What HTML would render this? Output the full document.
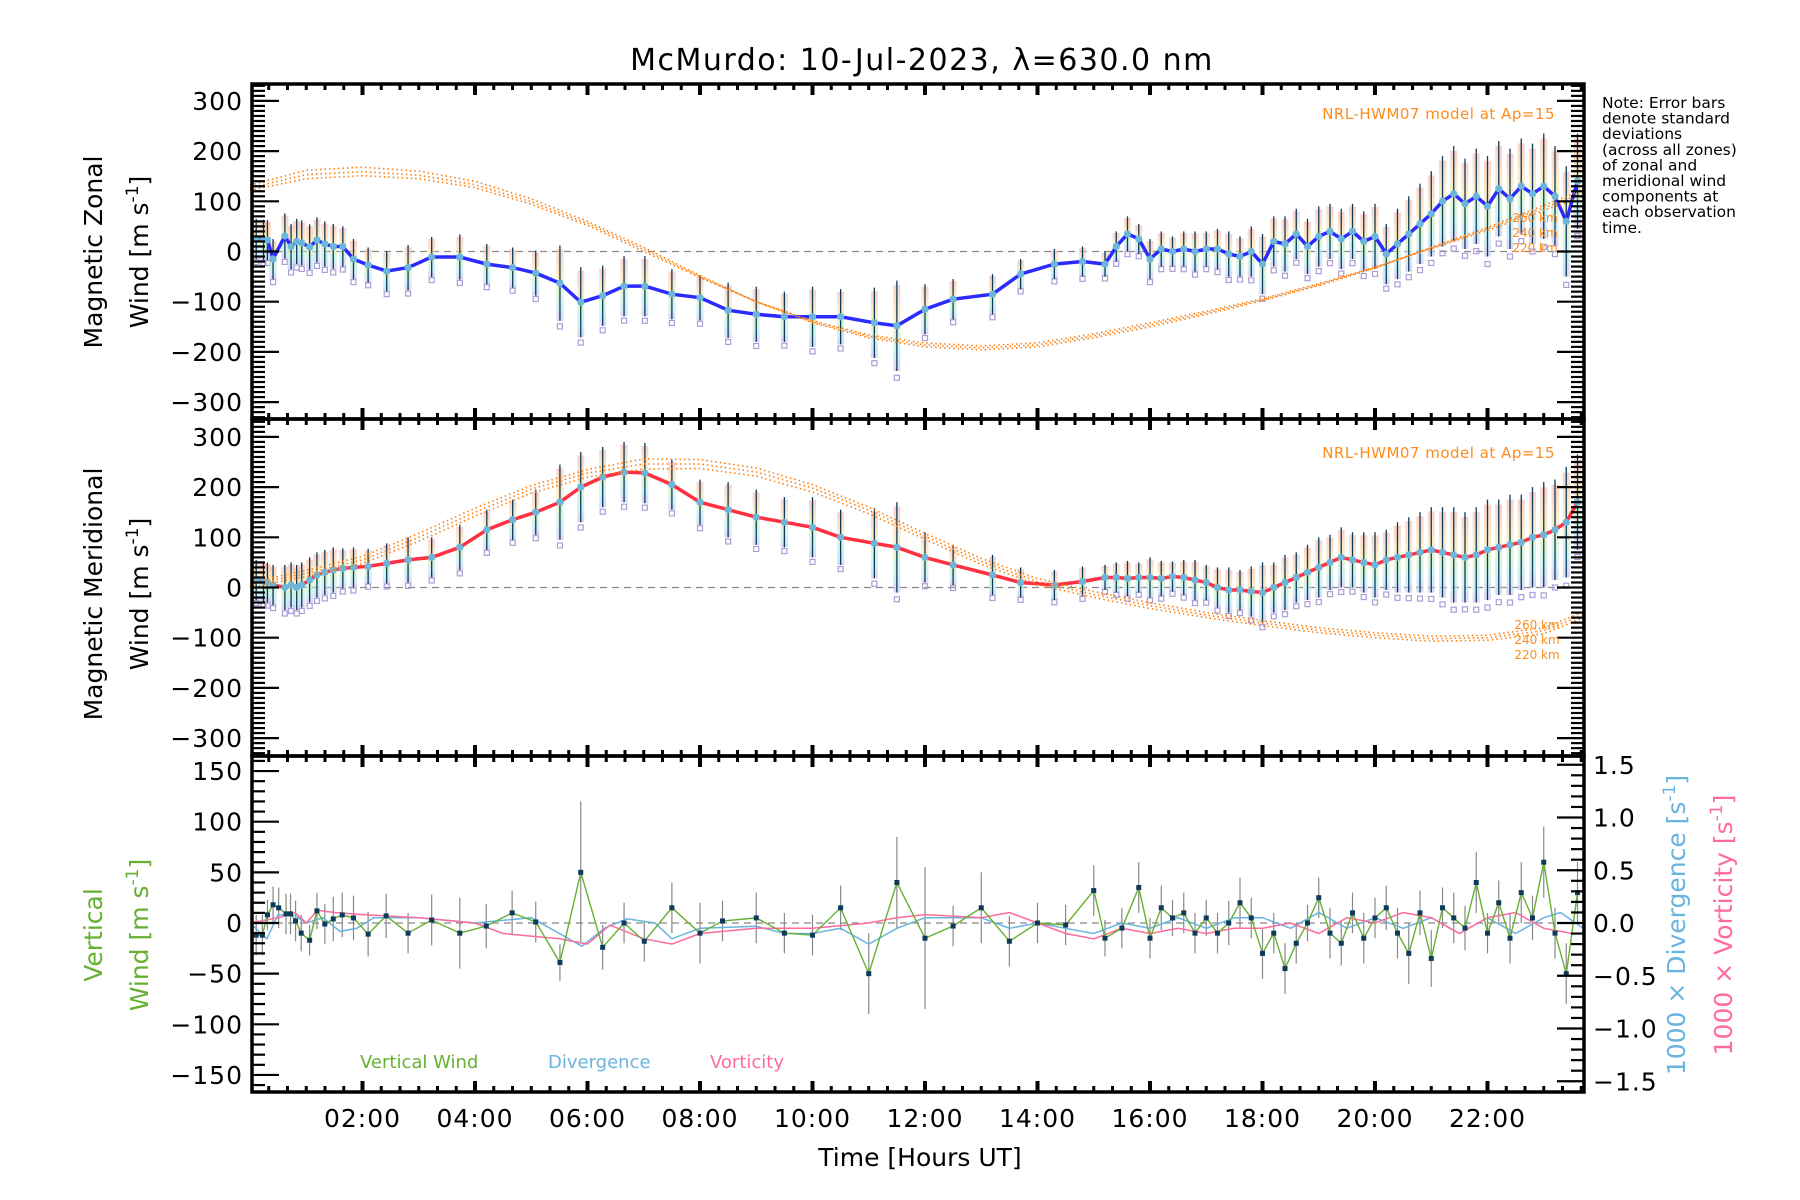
<!DOCTYPE html>
<html><head><meta charset="utf-8">
<style>
html,body{margin:0;padding:0;background:#fff;}
svg{display:block;font-family:"DejaVu Sans","Liberation Sans",sans-serif;}
</style></head>
<body>
<svg id="chart" width="1800" height="1200" viewBox="0 0 1800 1200" xmlns="http://www.w3.org/2000/svg">
<defs>
<linearGradient id="rb" x1="0" y1="0" x2="0" y2="1">
<stop offset="0" stop-color="#f7b9b0"/><stop offset="0.35" stop-color="#f9e0a8"/><stop offset="0.6" stop-color="#c9f0c0"/><stop offset="0.8" stop-color="#b8e8f0"/><stop offset="1" stop-color="#c8c0ee"/>
</linearGradient>
</defs>
<text x="922" y="70" font-size="30" text-anchor="middle" letter-spacing="1.5">McMurdo: 10-Jul-2023, λ=630.0 nm</text>
<g id="marks"></g>
<g id="axes"></g>
<text font-size="15.5" x="1602" y="108">
<tspan x="1602" dy="0">Note: Error bars</tspan><tspan x="1602" dy="15.6">denote standard</tspan><tspan x="1602" dy="15.6">deviations</tspan><tspan x="1602" dy="15.6">(across all zones)</tspan><tspan x="1602" dy="15.6">of zonal and</tspan><tspan x="1602" dy="15.6">meridional wind</tspan><tspan x="1602" dy="15.6">components at</tspan><tspan x="1602" dy="15.6">each observation</tspan><tspan x="1602" dy="15.6">time.</tspan></text>
<text x="1555" y="119" font-size="15" fill="#ff8c1a" text-anchor="end" letter-spacing="0.5">NRL-HWM07 model at Ap=15</text>
<text x="1555" y="458" font-size="15" fill="#ff8c1a" text-anchor="end" letter-spacing="0.5">NRL-HWM07 model at Ap=15</text>
<g font-size="12" fill="#ff8c1a" text-anchor="middle">
<text x="1535" y="222">260 km</text>
<text x="1535" y="237">240 km</text>
<text x="1535" y="252">220 km</text>
<text x="1537" y="629">260 km</text>
<text x="1537" y="644">240 km</text>
<text x="1537" y="659">220 km</text>
</g>
<g font-size="25">
<text transform="translate(102,252) rotate(-90)" text-anchor="middle">Magnetic Zonal</text>
<text transform="translate(148,252) rotate(-90)" text-anchor="middle">Wind [m s<tspan font-size="17" dy="-10">-1</tspan><tspan dy="10">]</tspan></text>
<text transform="translate(102,594) rotate(-90)" text-anchor="middle">Magnetic Meridional</text>
<text transform="translate(148,594) rotate(-90)" text-anchor="middle">Wind [m s<tspan font-size="17" dy="-10">-1</tspan><tspan dy="10">]</tspan></text>
<text fill="#66b032" transform="translate(102,935) rotate(-90)" text-anchor="middle">Vertical</text>
<text fill="#66b032" transform="translate(148,935) rotate(-90)" text-anchor="middle">Wind [m s<tspan font-size="17" dy="-10">-1</tspan><tspan dy="10">]</tspan></text>
<text fill="#6ab4e0" transform="translate(1685,925) rotate(-90)" text-anchor="middle">1000 × Divergence [s<tspan font-size="17" dy="-10">-1</tspan><tspan dy="10">]</tspan></text>
<text fill="#ff6b9c" transform="translate(1732,925) rotate(-90)" text-anchor="middle">1000 × Vorticity [s<tspan font-size="17" dy="-10">-1</tspan><tspan dy="10">]</tspan></text>
<text x="920" y="1166" text-anchor="middle">Time [Hours UT]</text>
</g>
<g font-size="18">
<text x="360" y="1068" fill="#66b032">Vertical Wind</text>
<text x="548" y="1068" fill="#6ab4e0">Divergence</text>
<text x="710" y="1068" fill="#ff6b9c">Vorticity</text>
</g>
</svg>
<script>
const obsHours = [0.11,0.24,0.31,0.41,0.62,0.73,0.83,0.92,1.06,1.19,1.33,1.48,1.65,1.84,2.10,2.43,2.81,3.23,3.73,4.21,4.67,5.08,5.51,5.88,6.27,6.65,7.02,7.5,8.0,8.5,9.0,9.5,10.0,10.5,11.1,11.5,12.0,12.5,13.2,13.7,14.3,14.8,15.2,
15.4,15.6,15.8,16.0,16.2,16.4,16.6,16.8,17.0,17.2,17.4,17.6,17.8,18.0,18.2,18.4,18.6,18.8,19.0,19.2,19.4,19.6,19.8,20.0,20.2,20.4,20.6,20.8,21.0,21.2,21.4,21.6,21.8,22.0,22.2,22.4,22.6,22.8,23.0,23.2,23.4,23.6];
const zonalValues = [25,23,23,-15,31,10,20,17,9,23,15,10,10,-15,-27,-39,-32,-11,-11,-25,-32,-43,-63,-101,-88,-69,-69,-85,-92,-117,-125,-130,-130,-130,-142,-148,-115,-95,-85,-45,-25,-20,-25,
10,35,25,-15,5,0,5,0,5,5,-5,-10,0,-25,20,15,35,10,30,40,25,40,20,30,-5,15,35,55,75,100,115,95,110,90,125,105,130,115,130,110,60,140];
const meridValues = [15,12,10,5,0,5,0,5,15,25,30,35,38,40,42,48,55,60,80,115,135,150,170,200,220,230,228,205,170,155,140,130,120,100,88,80,60,45,25,10,5,12,20,
20,18,20,20,18,22,20,15,10,0,-5,-5,-8,-10,0,10,20,30,40,50,60,55,50,45,55,60,65,70,75,70,65,60,65,75,80,85,90,100,105,115,130,170];
const obsErrors = [40,40,40,40,45,45,45,45,45,45,45,45,40,40,35,40,45,40,45,40,40,45,75,70,60,60,60,50,45,55,55,50,60,55,70,90,50,40,40,30,30,30,25,
30,35,30,40,35,30,35,40,35,40,45,40,50,60,50,55,50,55,60,55,60,55,60,65,60,70,75,80,85,90,95,90,95,100,95,100,95,100,105,100,110,95];
const modelHours = [0,1,2,3,4,5,6,7,8,9,10,11,12,13,14,15,16,17,18,19,20,21,22,23,24];
const zonalModel260 = [132,162,168,160,140,105,60,8,-48,-100,-142,-172,-190,-196,-190,-172,-150,-125,-98,-68,-33,8,48,92,124];
const zonalModel240 = [127,153,159,152,133,99,56,4,-50,-100,-140,-169,-186,-192,-186,-168,-146,-122,-96,-66,-32,7,45,87,117];
const zonalModel220 = [122,145,151,145,127,94,52,0,-52,-100,-138,-166,-182,-188,-182,-164,-142,-119,-94,-64,-31,6,42,82,110];
const meridModel260 = [10,34,62,108,158,203,235,256,255,238,205,160,108,58,18,-8,-30,-50,-66,-80,-90,-97,-95,-80,-48];
const meridModel240 = [5,28,55,100,150,196,228,246,246,230,198,154,102,52,12,-14,-36,-55,-71,-85,-95,-102,-100,-86,-54];
const meridModel220 = [0,22,48,92,142,188,220,236,237,222,190,147,96,46,6,-20,-42,-60,-76,-90,-100,-107,-105,-92,-60];
const vwHours = [0.11,0.22,0.31,0.41,0.51,0.64,0.72,0.81,0.91,1.06,1.19,1.33,1.48,1.64,1.84,2.10,2.42,2.81,3.23,3.73,4.2,4.66,5.08,5.51,5.88,6.27,6.65,7.01,7.5,8.0,8.4,9.0,9.5,10.0,10.5,11.0,11.5,12.0,12.5,13.0,13.5,14.0,14.5,15.0,15.2,15.5,15.8,16.0,16.2,16.4,16.6,16.8,17.0,17.2,17.4,17.6,17.8,18.0,18.2,18.4,18.6,18.8,19.0,19.2,19.4,19.6,19.8,20.0,20.2,20.4,20.6,20.8,21.0,21.2,21.4,21.6,21.8,22.0,22.2,22.4,22.6,22.8,23.0,23.2,23.4,23.6];
const vwValues = [-12,-12,8,18,15,9,9,2,-10,-17,12,-1,4,8,5,-11,7,-10,3,-10,-3,10,1,-39,50,-24,0,-18,15,-10,2,5,-10,-12,15,-50,40,-15,-3,15,-18,0,-2,32,-15,-5,35,-15,15,5,10,-10,5,-10,0,20,5,-30,-10,-45,-20,0,25,-10,-20,10,-15,5,15,-10,-30,10,-35,15,5,-5,40,-10,20,-15,30,5,60,-10,-50,30];
const vwErrors = [20,20,15,18,20,20,20,20,18,15,18,20,22,22,22,22,22,20,25,35,22,22,20,18,70,22,20,20,25,30,20,25,20,20,22,40,45,70,20,35,25,20,20,25,18,20,25,20,22,18,20,20,18,20,22,25,20,25,20,25,20,18,20,25,22,20,25,20,22,25,30,22,28,20,25,22,30,20,22,25,30,22,35,25,30,30];
const divHours = [0,0.3,0.5,0.8,1.0,1.3,1.6,1.9,2.2,3,4,5,5.5,5.9,6.3,6.7,7.2,7.5,8,9,9.5,10,10.5,11,11.5,12,12.5,13,13.5,14,14.5,15,15.5,16,16.5,17,17.5,18,18.5,19,19.5,20,20.5,21,21.5,22,22.5,23,23.3,23.7];
const divValues = [0,-0.15,0.08,0.07,0,0.05,-0.08,-0.05,0.05,0.05,0,0.05,-0.1,-0.22,-0.05,0.04,0,-0.15,-0.05,-0.03,-0.1,-0.1,-0.05,-0.2,-0.05,0.05,0.05,0.05,-0.05,0,-0.05,-0.1,0,-0.05,0.05,-0.05,0.05,0.05,-0.05,0.1,-0.05,0.05,-0.05,0.05,-0.1,0.05,-0.1,0.05,0.1,-0.05];
const vortHours = [0,0.5,0.8,1.0,1.2,1.5,2,3,4,4.5,5.5,6,6.4,7,7.5,8,9,10,11,11.5,12,13,13.5,14,14.5,15,15.5,16,16.5,17,17.5,18,18.5,19,19.5,20,20.5,21,21.5,22,22.5,23,23.5,23.7];
const vortValues = [0,0.05,0.1,0,0.12,0.1,0.08,0.05,0,-0.1,-0.15,-0.2,-0.02,-0.15,-0.2,-0.1,-0.05,-0.05,0,0.05,0.08,0.05,0.1,0,-0.1,-0.15,-0.05,-0.1,-0.05,-0.1,-0.05,-0.05,0,-0.1,0.05,0,0.1,0.05,-0.1,0.05,0.1,-0.05,-0.1,-0.1];
const leftTicksWind = [-300,-200,-100,0,100,200,300];
const leftTicksVert = [-150,-100,-50,0,50,100,150];
const rightTicksVert = [-1.5,-1.0,-0.5,0.0,0.5,1.0,1.5];
const xTickLabels = ['02:00','04:00','06:00','08:00','10:00','12:00','14:00','16:00','18:00','20:00','22:00'];

const NS='http://www.w3.org/2000/svg';
const L=252, R=1584, HMAX=23.72;
const X = h => 250 + h*56.25;
const P1={top:84,bot:419,zero:251.5,k:0.502};
const P2={top:419,bot:756,zero:587.5,k:0.502};
const P3={top:756,bot:1092,zero:923,k:1.013};
const Y1=v=>P1.zero-v*P1.k, Y2=v=>P2.zero-v*P2.k, Y3=v=>P3.zero-v*P3.k, YR=r=>P3.zero-r*105.5;
const marks=document.getElementById('marks'), axes=document.getElementById('axes');
function el(tag,attrs,parent){const e=document.createElementNS(NS,tag);for(const k in attrs)e.setAttribute(k,attrs[k]);(parent||marks).appendChild(e);return e;}

function zeroLine(Y,name){const e=el('line',{x1:L,x2:R,y1:Y(0),y2:Y(0),stroke:'#888','stroke-width':1.3,'stroke-dasharray':'7,5'});

}
zeroLine(Y1,'zonal-zero-line');zeroLine(Y2,'merid-zero-line');zeroLine(Y3,'vertical-zero-line');

function modelCurve(vals,Y,name){let pts=[];for(let i=0;i<modelHours.length;i++){const h=Math.min(modelHours[i],HMAX);pts.push(X(h).toFixed(1)+','+Y(vals[i]).toFixed(1));}
const e=el('polyline',{points:pts.join(' '),fill:'none',stroke:'#ff7f0e','stroke-width':1.6,'stroke-dasharray':'1.5,3'});

}

function obsPanel(vals,Y,lineColor,name){
  const g=el('g',{});
  
  
  for(let i=0;i<obsHours.length;i++){const x=X(obsHours[i]),v=vals[i],e=obsErrors[i];
    const r=el('rect',{x:x-3.5,y:Y(v+e*0.9),width:7,height:Y(v-e)-Y(v+e*0.9),fill:'url(#rb)',opacity:0.65},g);
    
    
    const s=el('rect',{x:x-2.5,y:Y(v-e*1.15)-2.5,width:5,height:5,fill:'none',stroke:'#a99ed8','stroke-width':1.2},g);
    
    
  }
  for(let i=0;i<obsHours.length;i++){const x=X(obsHours[i]),v=vals[i],e=obsErrors[i];
    const b=el('line',{x1:x,x2:x,y1:Y(v+e),y2:Y(v-e),stroke:'#0b3a5a','stroke-width':1.3},g);
    
    }
  const pl=el('polyline',{points:obsHours.map((h,i)=>X(h).toFixed(1)+','+Y(vals[i]).toFixed(1)).join(' '),fill:'none',stroke:lineColor,'stroke-width':3.5},g);
  
  
  for(let i=0;i<obsHours.length;i++){const c=el('circle',{cx:X(obsHours[i]),cy:Y(vals[i]),r:3.6,fill:'#6cb6dc'},g);
    
    }
}
obsPanel(zonalValues,Y1,'#2b2bff','zonal');
obsPanel(meridValues,Y2,'#ff3040','meridional');
modelCurve(zonalModel260,Y1,'zonal-model-260km');modelCurve(zonalModel240,Y1,'zonal-model-240km');modelCurve(zonalModel220,Y1,'zonal-model-220km');
modelCurve(meridModel260,Y2,'merid-model-260km');modelCurve(meridModel240,Y2,'merid-model-240km');modelCurve(meridModel220,Y2,'merid-model-220km');

for(let i=0;i<vwHours.length;i++){const x=X(vwHours[i]);const b=el('line',{x1:x,x2:x,y1:Y3(vwValues[i]+vwErrors[i]),y2:Y3(vwValues[i]-vwErrors[i]),stroke:'#888','stroke-width':1.2});

}
const dl=el('polyline',{points:divHours.map((h,i)=>X(Math.min(h,HMAX)).toFixed(1)+','+YR(divValues[i]).toFixed(1)).join(' '),fill:'none',stroke:'#6ab4e0','stroke-width':1.5});


const vl=el('polyline',{points:vortHours.map((h,i)=>X(Math.min(h,HMAX)).toFixed(1)+','+YR(vortValues[i]).toFixed(1)).join(' '),fill:'none',stroke:'#ff6b9c','stroke-width':1.5});


const wl=el('polyline',{points:vwHours.map((h,i)=>X(h).toFixed(1)+','+Y3(vwValues[i]).toFixed(1)).join(' '),fill:'none',stroke:'#66b032','stroke-width':1.4});


for(let i=0;i<vwHours.length;i++){const p=el('rect',{x:X(vwHours[i])-2.5,y:Y3(vwValues[i])-2.5,width:5,height:5,fill:'#0b3a5a'});

}

function ln(x1,y1,x2,y2,w){return el('line',{x1,y1,x2,y2,stroke:'#000','stroke-width':w},axes);}
function yAxis(P,Yf,vmin,vmax,minorStep,majors,labelSide,labelFmt,name){
  for(let v=Math.ceil(vmin/minorStep)*minorStep; v<=vmax+1e-9; v+=minorStep){const y=Yf(v);if(y<P.top+1||y>P.bot-1)continue;
    const isMaj=majors.some(m=>Math.abs(m-v)<1e-6);const len=isMaj?27:13;
    if(labelSide!=='right-only'){const t=ln(L,y,L+len,y,2.2);}
    if(labelSide!=='left-only'){const t=ln(R,y,R-len,y,2.2);}
  }
}
function yLabels(Yf,vals,x,anchor,fmt,name){for(const v of vals){const t=el('text',{x:x,y:Yf(v)+9,'font-size':25,'text-anchor':anchor,'letter-spacing':'1'},axes);t.textContent=fmt(v).replace('-','\u2212');

}}
yAxis(P1,Y1,-340,340,10,leftTicksWind,'both',null,'zonal-y');
yAxis(P2,Y2,-340,340,10,leftTicksWind,'both',null,'merid-y');
yAxis(P3,Y3,-170,170,10,leftTicksVert,'left-only',null,'vertical-y');
yAxis(P3,YR,-1.6,1.6,0.1,rightTicksVert,'right-only',null,'right-y');
yLabels(Y1,leftTicksWind,243,'end',v=>String(v),'zonal-y-tick-label');
yLabels(Y2,leftTicksWind,243,'end',v=>String(v),'merid-y-tick-label');
yLabels(Y3,leftTicksVert,243,'end',v=>String(v),'vertical-y-tick-label');
yLabels(YR,rightTicksVert,1593,'start',v=>v.toFixed(1),'right-y-tick-label');
for(const P of [P1,P2,P3]){
  for(let m=20;m/60<HMAX;m+=20){const x=X(m/60);const maj=(m%120===0);const len=maj?11:6;
    const a=ln(x,P.top,x,P.top+len,maj?4:3);
    const b=ln(x,P.bot,x,P.bot-len,maj?4:3);}
}
xTickLabels.forEach((s,i)=>{const t=el('text',{x:X(2*(i+1)),y:1127,'font-size':25,'text-anchor':'middle','letter-spacing':'1'},axes);t.textContent=s;

});
for(const [P,n] of [[P1,'zonal-panel-frame'],[P2,'merid-panel-frame'],[P3,'vertical-panel-frame']]){const f=el('rect',{x:L,y:P.top,width:R-L,height:P.bot-P.top,fill:'none',stroke:'#000','stroke-width':3.5},axes);

}
</script>
</body></html>
